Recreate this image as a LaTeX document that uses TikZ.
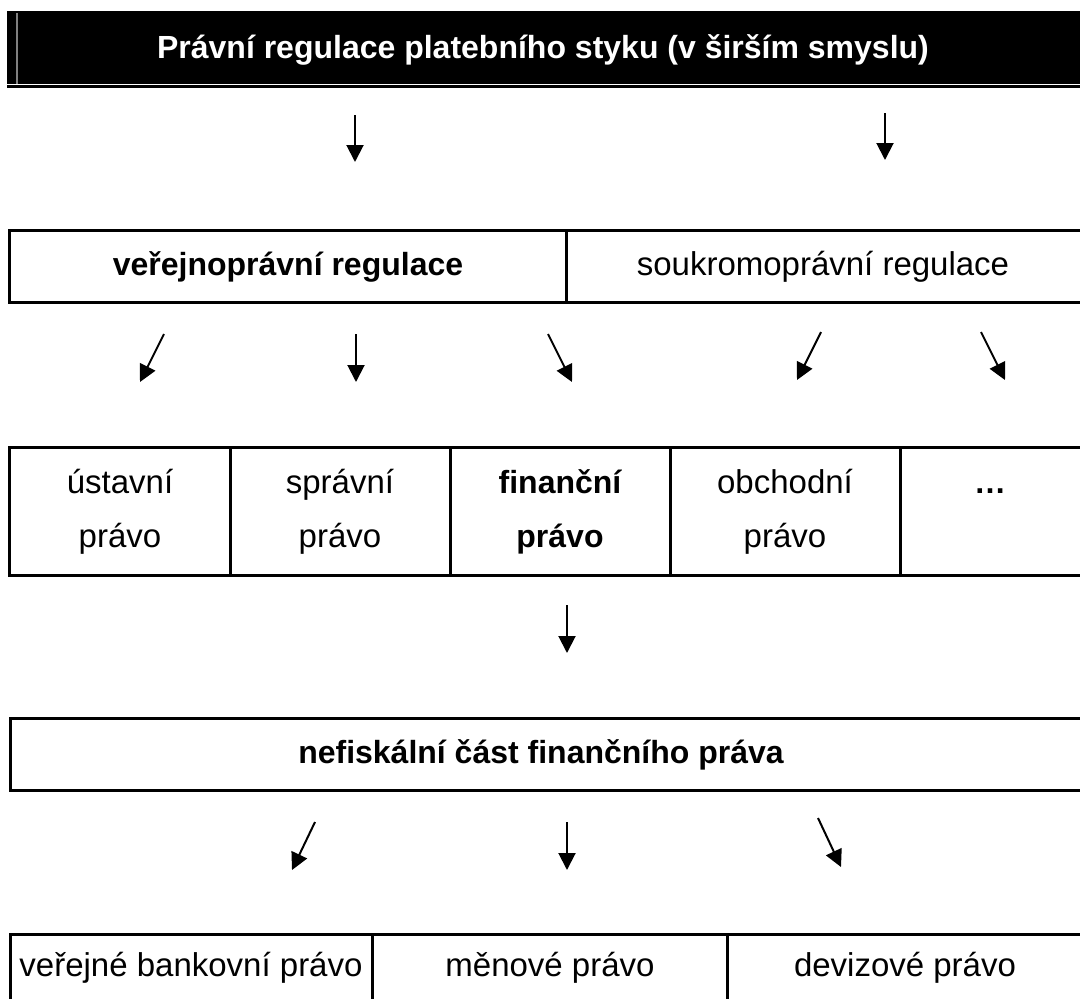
\documentclass[tikz,border=0pt]{standalone}
\usepackage{fontspec}
\setmainfont{Liberation Sans}
\usetikzlibrary{arrows.meta}
\begin{document}
\begin{tikzpicture}[x=1pt,y=-1pt,
  cell/.style={draw=black,line width=3pt,anchor=north west,inner sep=0pt,outer sep=0pt},
  reg/.style={font=\fontsize{33}{54}\selectfont,anchor=base,inner sep=0pt},
  bld/.style={font=\fontsize{32}{54}\selectfont\bfseries,anchor=base,inner sep=0pt},
  arr/.style={line width=2pt,-{Triangle[length=17pt,width=17pt]}}
]
\useasboundingbox (0,0) rectangle (1080,999);
% title bar
\node[fill=black,anchor=north west,inner sep=0pt,outer sep=0pt,minimum width=1080pt,minimum height=73pt] (top) at (7,11) {};
\coordinate (gl1) at (17,13);
\coordinate (gl2) at (17,84);
\draw[line width=1.5pt,gray] (gl1) -- (gl2);
\coordinate (bl1) at (7,86.5);
\coordinate (bl2) at (1085,86.5);
\draw[line width=2.5pt] (bl1) -- (bl2);
\node[bld,text=white] (ttl) at (543,58) {Právní regulace platebního styku (v širším smyslu)};
% arrows row 1
\coordinate (a1s) at (355,115); \coordinate (a1e) at (355,162);
\coordinate (a2s) at (885,113); \coordinate (a2e) at (885,160);
\draw[arr] (a1s) -- (a1e);
\draw[arr] (a2s) -- (a2e);
% row 2
\node[cell,minimum width=556.5pt,minimum height=72pt] (c2a) at (9.5,230) {};
\node[cell,minimum width=517pt,minimum height=72pt] (c2b) at (566,230) {};
\node[bld] (t2a) at (288,275) {veřejnoprávní regulace};
\node[reg] (t2b) at (823,275) {soukromoprávní regulace};
% arrows row 2
\coordinate (b1s) at (164,334); \coordinate (b1e) at (140,382);
\coordinate (b2s) at (356,334); \coordinate (b2e) at (356,382);
\coordinate (b3s) at (548,334); \coordinate (b3e) at (572,382);
\coordinate (b4s) at (821,332); \coordinate (b4e) at (797,380);
\coordinate (b5s) at (981,332); \coordinate (b5e) at (1005,380);
\foreach \i in {1,...,5}{\draw[arr] (b\i s) -- (b\i e);}
% row 3
\node[cell,minimum width=220.5pt,minimum height=128pt] (c3a) at (9.5,447) {};
\node[cell,minimum width=220pt,minimum height=128pt] (c3b) at (230,447) {};
\node[cell,minimum width=220pt,minimum height=128pt] (c3c) at (450,447) {};
\node[cell,minimum width=230pt,minimum height=128pt] (c3d) at (670,447) {};
\node[cell,minimum width=183pt,minimum height=128pt] (c3e) at (900,447) {};
\node[reg] (t3a1) at (120,493) {ústavní};
\node[reg] (t3a2) at (120,547) {právo};
\node[reg] (t3b1) at (340,493) {správní};
\node[reg] (t3b2) at (340,547) {právo};
\node[bld] (t3c1) at (560,493) {finanční};
\node[bld] (t3c2) at (560,547) {právo};
\node[reg] (t3d1) at (785,493) {obchodní};
\node[reg] (t3d2) at (785,547) {právo};
\node[bld] (t3e1) at (990,493) {…};
% arrow row 3
\coordinate (c1s) at (567,605); \coordinate (c1e) at (567,653);
\draw[arr] (c1s) -- (c1e);
% row 4
\node[cell,minimum width=1073pt,minimum height=72pt] (c4) at (10,718) {};
\node[bld] (t4) at (541,763) {nefiskální část finančního práva};
% arrows row 4
\coordinate (d1s) at (315,822); \coordinate (d1e) at (292,870);
\coordinate (d2s) at (567,822); \coordinate (d2e) at (567,870);
\coordinate (d3s) at (818,818); \coordinate (d3e) at (841,867);
\foreach \i in {1,2,3}{\draw[arr] (d\i s) -- (d\i e);}
% row 5
\node[cell,minimum width=362pt,minimum height=80pt] (c5a) at (10,934) {};
\node[cell,minimum width=355pt,minimum height=80pt] (c5b) at (372,934) {};
\node[cell,minimum width=356pt,minimum height=80pt] (c5c) at (727,934) {};
\node[reg] (t5a) at (191,976) {veřejné bankovní právo};
\node[reg] (t5b) at (550,976) {měnové právo};
\node[reg] (t5c) at (905,976) {devizové právo};
\end{tikzpicture}
\end{document}
